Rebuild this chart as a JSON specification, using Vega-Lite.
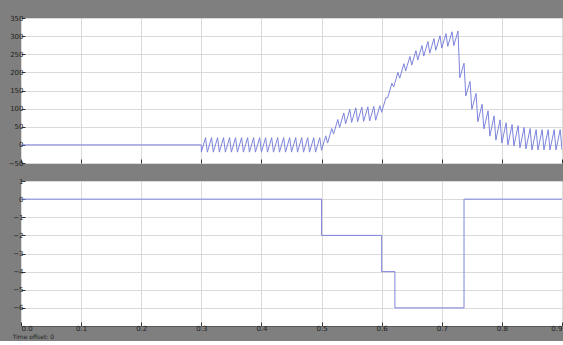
{
  "$schema": "https://vega.github.io/schema/vega-lite/v6.json",
  "padding": {"left": 7, "top": 13, "right": 0, "bottom": 0},
  "background": "#7f7f7f",
  "spacing": 9,
  "config": {
    "view": {"fill": "white", "stroke": "#5a5a5a", "strokeWidth": 1},
    "axis": {
      "domain": false,
      "grid": true,
      "gridColor": "#dadada",
      "gridWidth": 1,
      "tickColor": "#333333",
      "tickSize": -4,
      "labelColor": "#222222",
      "labelFontSize": 7,
      "labelFont": "DejaVu Sans",
      "labelPadding": 2,
      "labelFlush": false,
      "title": null
    },
    "title": {"fontSize": 6, "color": "#222222", "font": "DejaVu Sans", "fontWeight": "normal"}
  },
  "datasets": {
    "top": [
      {"t": 0, "v": 0}, {"t": 0.3, "v": 0},
      {"t": 0.30, "v": -20}, {"t": 0.307, "v": 20},
      {"t": 0.31, "v": -20}, {"t": 0.317, "v": 20},
      {"t": 0.32, "v": -20}, {"t": 0.327, "v": 20},
      {"t": 0.33, "v": -20}, {"t": 0.337, "v": 20},
      {"t": 0.34, "v": -20}, {"t": 0.347, "v": 20},
      {"t": 0.35, "v": -20}, {"t": 0.357, "v": 20},
      {"t": 0.36, "v": -20}, {"t": 0.367, "v": 20},
      {"t": 0.37, "v": -20}, {"t": 0.377, "v": 20},
      {"t": 0.38, "v": -20}, {"t": 0.387, "v": 20},
      {"t": 0.39, "v": -20}, {"t": 0.397, "v": 20},
      {"t": 0.40, "v": -20}, {"t": 0.407, "v": 20},
      {"t": 0.41, "v": -20}, {"t": 0.417, "v": 20},
      {"t": 0.42, "v": -20}, {"t": 0.427, "v": 20},
      {"t": 0.43, "v": -20}, {"t": 0.437, "v": 20},
      {"t": 0.44, "v": -20}, {"t": 0.447, "v": 20},
      {"t": 0.45, "v": -20}, {"t": 0.457, "v": 20},
      {"t": 0.46, "v": -20}, {"t": 0.467, "v": 20},
      {"t": 0.47, "v": -20}, {"t": 0.477, "v": 20},
      {"t": 0.48, "v": -20}, {"t": 0.487, "v": 20},
      {"t": 0.49, "v": -20}, {"t": 0.497, "v": 20},
      {"t": 0.50, "v": -15}, {"t": 0.507, "v": 25},
      {"t": 0.51, "v": 5}, {"t": 0.517, "v": 45},
      {"t": 0.52, "v": 30}, {"t": 0.527, "v": 70},
      {"t": 0.53, "v": 48}, {"t": 0.537, "v": 88},
      {"t": 0.54, "v": 58}, {"t": 0.547, "v": 98},
      {"t": 0.55, "v": 62}, {"t": 0.557, "v": 102},
      {"t": 0.56, "v": 64}, {"t": 0.567, "v": 104},
      {"t": 0.57, "v": 65}, {"t": 0.577, "v": 105},
      {"t": 0.58, "v": 66}, {"t": 0.587, "v": 106},
      {"t": 0.59, "v": 68}, {"t": 0.597, "v": 108},
      {"t": 0.60, "v": 90}, {"t": 0.607, "v": 130},
      {"t": 0.61, "v": 130}, {"t": 0.617, "v": 170},
      {"t": 0.62, "v": 160}, {"t": 0.627, "v": 200},
      {"t": 0.63, "v": 184}, {"t": 0.637, "v": 224},
      {"t": 0.64, "v": 204}, {"t": 0.647, "v": 244},
      {"t": 0.65, "v": 220}, {"t": 0.657, "v": 260},
      {"t": 0.66, "v": 234}, {"t": 0.667, "v": 274},
      {"t": 0.67, "v": 245}, {"t": 0.677, "v": 285},
      {"t": 0.68, "v": 253}, {"t": 0.687, "v": 293},
      {"t": 0.69, "v": 261}, {"t": 0.697, "v": 301},
      {"t": 0.70, "v": 267}, {"t": 0.707, "v": 307},
      {"t": 0.71, "v": 272}, {"t": 0.717, "v": 312},
      {"t": 0.72, "v": 274}, {"t": 0.727, "v": 314},
      {"t": 0.73, "v": 185}, {"t": 0.737, "v": 225},
      {"t": 0.74, "v": 135}, {"t": 0.747, "v": 175},
      {"t": 0.75, "v": 98}, {"t": 0.757, "v": 142},
      {"t": 0.76, "v": 64}, {"t": 0.767, "v": 112},
      {"t": 0.77, "v": 44}, {"t": 0.777, "v": 94},
      {"t": 0.78, "v": 24}, {"t": 0.787, "v": 80},
      {"t": 0.79, "v": 13}, {"t": 0.797, "v": 69},
      {"t": 0.80, "v": 5}, {"t": 0.807, "v": 61},
      {"t": 0.81, "v": 0}, {"t": 0.817, "v": 56},
      {"t": 0.82, "v": -3}, {"t": 0.827, "v": 53},
      {"t": 0.83, "v": -8}, {"t": 0.837, "v": 48},
      {"t": 0.84, "v": -11}, {"t": 0.847, "v": 45},
      {"t": 0.85, "v": -14}, {"t": 0.857, "v": 42},
      {"t": 0.86, "v": -14}, {"t": 0.867, "v": 42},
      {"t": 0.87, "v": -14}, {"t": 0.877, "v": 42},
      {"t": 0.88, "v": -14}, {"t": 0.887, "v": 42},
      {"t": 0.89, "v": -14}, {"t": 0.897, "v": 42},
      {"t": 0.90, "v": -14}
    ],
    "bottom": [
      {"t": 0, "v": 0},
      {"t": 0.5, "v": -2},
      {"t": 0.6, "v": -4},
      {"t": 0.622, "v": -6},
      {"t": 0.737, "v": 0},
      {"t": 0.9, "v": 0}
    ]
  },
  "vconcat": [
    {
      "width": 541,
      "height": 145,
      "data": {"name": "top"},
      "mark": {"type": "line", "color": "#7d84dc", "strokeWidth": 1, "clip": true},
      "encoding": {
        "x": {"field": "t", "type": "quantitative", "scale": {"domain": [0, 0.9], "nice": false, "zero": false},
              "axis": {"values": [0, 0.1, 0.2, 0.3, 0.4, 0.5, 0.6, 0.7, 0.8, 0.9], "labels": false}},
        "y": {"field": "v", "type": "quantitative", "scale": {"domain": [-50, 350], "nice": false},
              "axis": {"values": [-50, 0, 50, 100, 150, 200, 250, 300, 350]}}
      }
    },
    {
      "width": 541,
      "height": 145,
      "title": {"text": "Time offset: 0", "orient": "bottom", "anchor": "start", "frame": "bounds", "offset": 3},
      "data": {"name": "bottom"},
      "mark": {"type": "line", "color": "#7d84dc", "strokeWidth": 1, "interpolate": "step-after", "clip": true},
      "encoding": {
        "x": {"field": "t", "type": "quantitative", "scale": {"domain": [0, 0.9], "nice": false, "zero": false},
              "axis": {"values": [0, 0.1, 0.2, 0.3, 0.4, 0.5, 0.6, 0.7, 0.8, 0.9], "format": ".1f", "labelFlush": true}},
        "y": {"field": "v", "type": "quantitative", "scale": {"domain": [-7, 1], "nice": false},
              "axis": {"values": [-6, -5, -4, -3, -2, -1, 0, 1]}}
      }
    }
  ]
}
